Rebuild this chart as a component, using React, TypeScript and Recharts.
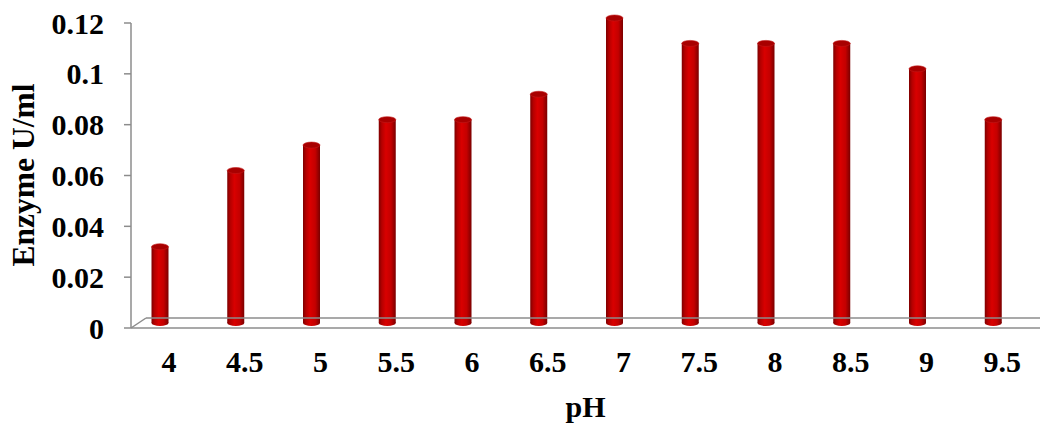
import { BarChart, Bar, XAxis, YAxis, ReferenceLine, Label } from 'recharts';

const phLevels = ['4', '4.5', '5', '5.5', '6', '6.5', '7', '7.5', '8', '8.5', '9', '9.5'];
const enzymeActivity = [0.03, 0.06, 0.07, 0.08, 0.08, 0.09, 0.12, 0.11, 0.11, 0.11, 0.1, 0.08];
const yTicks = [0, 0.02, 0.04, 0.06, 0.08, 0.1, 0.12];

const chartData = phLevels.map((ph, i) => ({ ph, activity: enzymeActivity[i] }));

const FONT = '"Liberation Serif", "Times New Roman", serif';
const AXIS_GREY = '#8c8c8c';

// cylinder drawn a little up-left of the band, like the 3D column in the original
function Cylinder(props: any) {
  const { x, y, width, height } = props;
  if (height == null || height <= 0) return null;
  const dx = -8.5;
  const dy = -5;
  const cx = x + dx + width / 2;
  const top = y + dy;
  const bottom = y + height + dy;
  const rx = width / 2;
  const ry = 3;
  return (
    <g>
      <ellipse cx={cx} cy={bottom} rx={rx} ry={ry} fill="url(#cylBody)" />
      <rect x={x + dx} y={top} width={width} height={bottom - top} fill="url(#cylBody)" />
      <ellipse cx={cx} cy={top} rx={rx} ry={ry} fill="#a80000" stroke="#c21a1a" strokeWidth={0.6} />
    </g>
  );
}

function Floor(props: any) {
  const { x1, x2, y1 } = props;
  const depthX = 15;
  const depthY = 10;
  return (
    <g stroke={AXIS_GREY} strokeWidth={1.5} fill="none">
      <line x1={x1} y1={y1} x2={x2} y2={y1} />
      <line x1={x1 + depthX} y1={y1 - depthY} x2={x2} y2={y1 - depthY} />
      <line x1={x1} y1={y1} x2={x1 + depthX} y2={y1 - depthY} />
    </g>
  );
}

export default function App() {
  return (
    <div style={{ position: 'absolute', left: 0, top: 0, width: 1041, height: 427, background: '#fff' }}>
      <BarChart
        width={1041}
        height={427}
        data={chartData}
        margin={{ top: 23, right: 1, left: 0, bottom: 0 }}
        barCategoryGap={0}
      >
        <defs>
          <linearGradient id="cylBody" x1="0" y1="0" x2="1" y2="0">
            <stop offset="0%" stopColor="#7e0000" />
            <stop offset="18%" stopColor="#b50000" />
            <stop offset="42%" stopColor="#d90000" />
            <stop offset="72%" stopColor="#c40000" />
            <stop offset="100%" stopColor="#7a0000" />
          </linearGradient>
        </defs>
        <XAxis
          dataKey="ph"
          height={99}
          axisLine={false}
          tickLine={false}
          tickSize={6}
          tickMargin={17}
          interval={0}
          tick={{ fill: '#000', fontSize: 30, fontWeight: 'bold', fontFamily: FONT }}
        >
          <Label
            value="pH"
            position="insideBottom"
            offset={10}
            style={{ fill: '#000', fontSize: 30, fontWeight: 'bold', fontFamily: FONT }}
          />
        </XAxis>
        <YAxis
          width={131}
          domain={[0, 0.12]}
          ticks={yTicks}
          interval={0}
          axisLine={{ stroke: AXIS_GREY, strokeWidth: 1.5 }}
          tickLine={{ stroke: AXIS_GREY, strokeWidth: 1.5 }}
          tickSize={7}
          tickMargin={20}
          tick={{ fill: '#000', fontSize: 30, fontWeight: 'bold', fontFamily: FONT }}
        >
          <Label
            content={() => (
              <text
                transform="translate(34,175) rotate(-90)"
                textAnchor="middle"
                fill="#000"
                fontSize={31.5}
                fontWeight="bold"
                fontFamily={FONT}
              >
                Enzyme U/ml
              </text>
            )}
          />
        </YAxis>
        <ReferenceLine y={0} shape={<Floor />} />
        <Bar dataKey="activity" barSize={17} shape={<Cylinder />} isAnimationActive={false} />
      </BarChart>
    </div>
  );
}
